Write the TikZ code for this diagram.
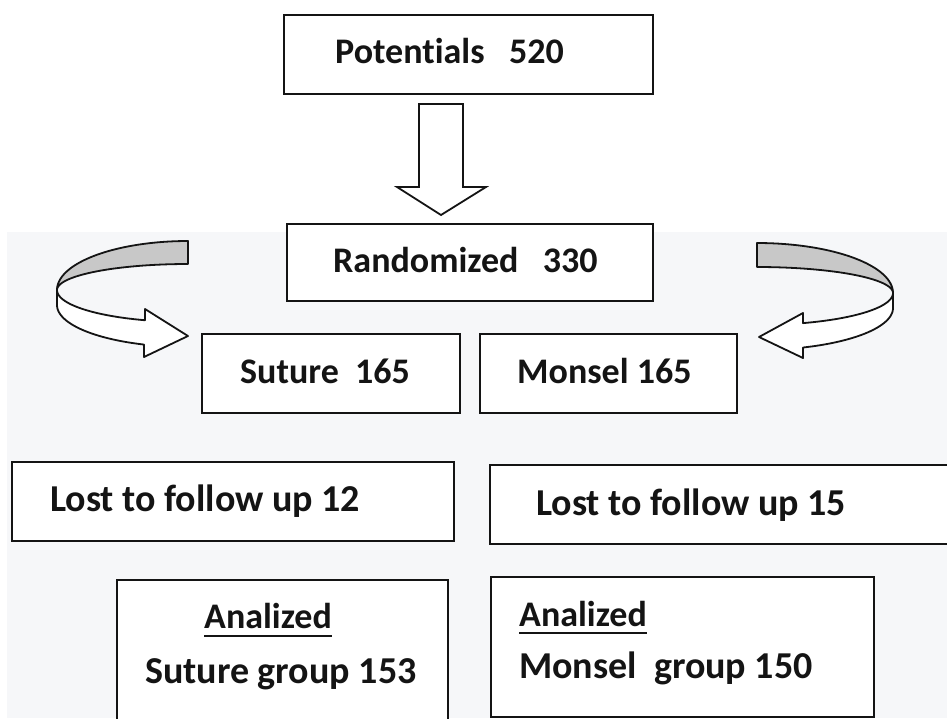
\documentclass[tikz,border=0pt]{standalone}
\usepackage{fontspec}
\setmainfont{Carlito}[Ligatures=NoCommon]
\definecolor{bgc}{RGB}{246,247,249}
\definecolor{band}{RGB}{200,200,200}
\definecolor{ink}{RGB}{20,20,20}
\begin{document}
\begin{tikzpicture}[x=1pt,y=-1pt,
  box/.style={draw=ink, line width=1.8pt, fill=white, rectangle, inner sep=0pt, anchor=north west},
  lbl/.style={anchor=base west, inner sep=0pt, text=ink, font=\fontsize{36}{40}\selectfont\bfseries},
  lblw/.style={lbl, font=\fontsize{38}{42}\selectfont\bfseries},
  shapeline/.style={draw=ink, line width=1.8pt, line join=round},
  ul/.style={draw=ink, line width=2.6pt}
]
\useasboundingbox (0,0) rectangle (947,718);
\fill[white] (0,0) rectangle (947,718);
\fill[bgc] (7,232) rectangle (947,718);

% boxes
\node[box, minimum width=369pt, minimum height=79pt] (pot) at (283,14) {};
\node[box, minimum width=366pt, minimum height=77pt] (rand) at (286,223) {};
\node[box, minimum width=258pt, minimum height=79pt] (sut) at (201,333) {};
\node[box, minimum width=257pt, minimum height=79pt] (mon) at (479,333) {};
\node[box, minimum width=442pt, minimum height=79pt] (lost1) at (11,461) {};
\node[box, minimum width=480pt, minimum height=79pt] (lost2) at (489,464) {};
\node[box, minimum width=331pt, minimum height=150pt] (an1) at (116,579) {};
\node[box, minimum width=383pt, minimum height=140pt] (an2) at (490,576) {};

% texts
\node[lbl] (potT) at (335,63) {Potentials\ \ \ 520};
\node[lbl] (randT) at (333,272) {Randomized\ \ \ 330};
\node[lbl] (sutT) at (240,383) {Suture\ \ 165};
\node[lbl] (monT) at (517,383) {Monsel\ 165};
\node[lblw] (lost1T) at (50,511) {Lost to follow up 12};
\node[lblw] (lost2T) at (536,515) {Lost to follow up 15};
\node[lbl] (an1a) at (204,628) {Analized};
\node[lblw] (an1b) at (145,683) {Suture group 153};
\node[lbl] (an2a) at (519,626) {Analized};
\node[lblw] (an2b) at (519,678) {Monsel\ \ group 150};
\draw[ul] ([yshift=-8pt]an1a.base west) -- ([yshift=-8pt]an1a.base east);
\draw[ul] ([yshift=-7pt]an2a.base west) -- ([yshift=-7pt]an2a.base east);

% block arrow from pot to rand
\filldraw[shapeline, fill=white, line join=miter]
  (419,104) -- (463,104) -- (463,187) -- (486,187) -- (441,215) -- (397,187) -- (419,187) -- cycle;

% left curved arrow
\filldraw[shapeline, fill=band]
  plot[domain=90:180, samples=40] ({188+131*cos(\x)}, {290-49*sin(\x)})
  -- plot[domain=180:90, samples=40] ({188+131*cos(\x)}, {290-26*sin(\x)}) -- cycle;
\filldraw[shapeline, fill=white]
  plot[domain=180:109.2, samples=40] ({188+131*cos(\x)}, {290+32*sin(\x)})
  -- (145,309) -- (188,336) -- (144,357)
  -- plot[domain=109.6:180, samples=40] ({188+131*cos(\x)}, {305+42*sin(\x)}) -- cycle;

% right curved arrow
\filldraw[shapeline, fill=band]
  plot[domain=90:180, samples=40] ({757-136*cos(\x)}, {293-50*sin(\x)})
  -- plot[domain=180:90, samples=40] ({757-136*cos(\x)}, {293-26*sin(\x)}) -- cycle;
\filldraw[shapeline, fill=white]
  plot[domain=180:109.8, samples=40] ({757-136*cos(\x)}, {293+32*sin(\x)})
  -- (803,313) -- (759,337) -- (803,358)
  -- plot[domain=109.8:180, samples=40] ({757-136*cos(\x)}, {308+42*sin(\x)}) -- cycle;
\end{tikzpicture}
\end{document}
